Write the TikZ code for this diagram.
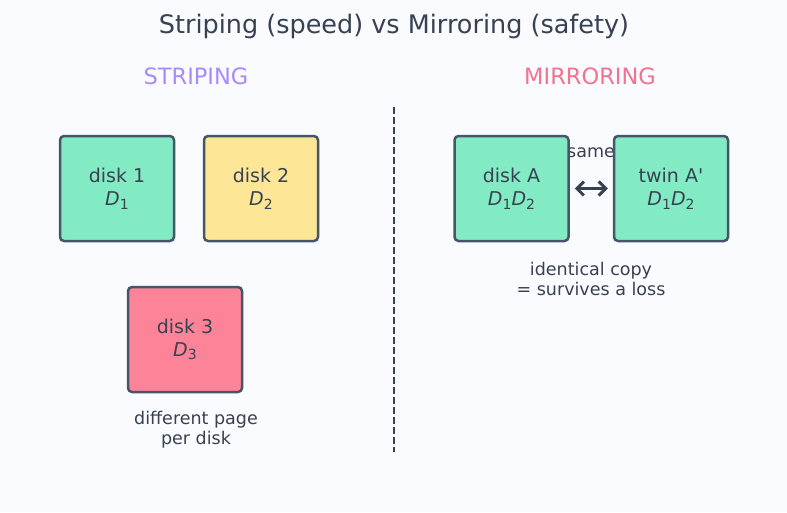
\documentclass[tikz,border=0pt]{standalone}
\usepackage{fontspec}
\setmainfont{DejaVu Sans}
\usetikzlibrary{arrows.meta}
\definecolor{slate}{RGB}{55,65,81}
\definecolor{rim}{RGB}{71,85,105}
\definecolor{paper}{RGB}{250,251,254}
\definecolor{lilac}{RGB}{167,139,250}
\definecolor{rosy}{RGB}{244,114,142}
\definecolor{mint}{RGB}{130,235,196}
\definecolor{butter}{RGB}{253,230,150}
\definecolor{blush}{RGB}{253,132,152}
\newcommand{\dsub}[1]{\textit{D}\raisebox{-0.35ex}{\fontsize{14}{14}\selectfont #1}}

\begin{document}
\begin{tikzpicture}[x=1pt,y=-1pt,line join=round,
  disk/.style={draw=rim,line width=2.5pt,rounded corners=4pt,minimum width=114pt,minimum height=105pt,
    align=center,text=slate,font=\fontsize{19}{23}\selectfont},
  note/.style={text=slate,align=center,font=\fontsize{17.5}{20}\selectfont},
  heading/.style={font=\fontsize{22.5}{26}\selectfont}]
\fill[paper] (0,0) rectangle (787,512);
\useasboundingbox (0,0) rectangle (787,512);
\node[text=slate,font=\fontsize{25.5}{30}\selectfont] (title) at (394,26) {Striping (speed) vs Mirroring (safety)};
\node[heading,text=lilac] (stripe) at (196,76) {STRIPING};
\node[heading,text=rosy] (mirror) at (590,76) {MIRRORING};
\coordinate (divtop) at (394,107);
\coordinate (divbot) at (394,452);
\draw[slate,line width=1.6pt,dash pattern=on 6.5pt off 3.5pt] (divtop) -- (divbot);
\node[disk,fill=mint] (d1) at (117,188.5) {disk 1\\\dsub{1}};
\node[disk,fill=butter] (d2) at (261,188.5) {disk 2\\\dsub{2}};
\node[disk,fill=blush] (d3) at (185,339.5) {disk 3\\\dsub{3}};
\node[note] (stripenote) at (196,430) {different page\\per disk};
\node[note] (same) at (591,153) {same};
\node[disk,fill=mint] (da) at (511.5,188.5) {disk A\\\dsub{1}\dsub{2}};
\node[disk,fill=mint] (twin) at (671,188.5) {twin A\textquotesingle\\\dsub{1}\dsub{2}};
\draw[slate,line width=3pt,line cap=round,{Straight Barb[length=7pt,width=14pt]}-{Straight Barb[length=7pt,width=14pt]},shorten <=5pt,shorten >=5pt] (da) -- (twin);
\node[note] (mirrornote) at (591,279) {identical copy\\= survives a loss};
\end{tikzpicture}
\end{document}
